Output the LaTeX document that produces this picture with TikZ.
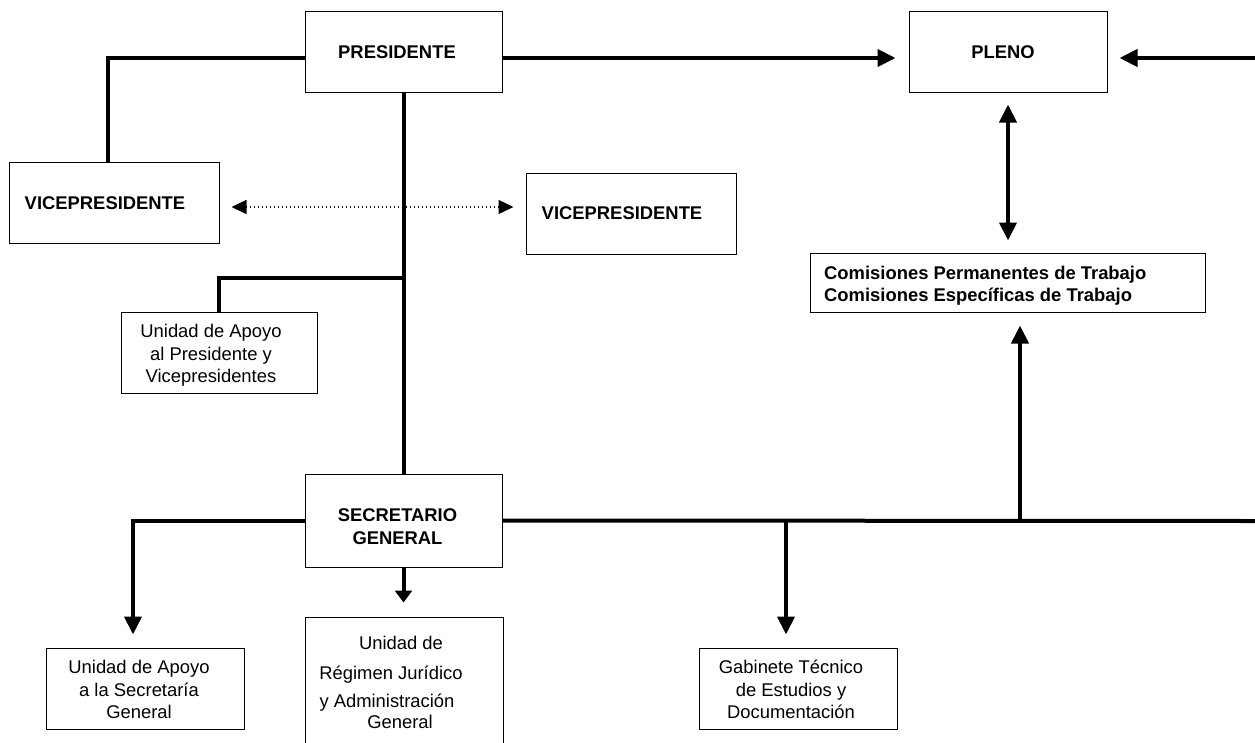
\documentclass[tikz,border=0pt]{standalone}
\usepackage{fontspec}
\setmainfont{Liberation Sans}
\usetikzlibrary{arrows.meta}
\begin{document}
\begin{tikzpicture}[x=1pt,y=-1pt,
  box/.style={draw, line width=1pt, rectangle, inner sep=0pt},
  conn/.style={line width=4pt},
  arr/.style={conn, -{Triangle[length=18pt,width=17pt]}},
  darr/.style={conn, {Triangle[length=18pt,width=17pt]}-{Triangle[length=18pt,width=17pt]}},
  sarr/.style={conn, -{Triangle[length=12pt,width=17pt]}},
  dotarr/.style={line width=1.3pt, dash pattern=on 1.3pt off 2.7pt, {Triangle[length=15pt,width=14pt]}-{Triangle[length=15pt,width=14pt]}},
  txt/.style={font=\fontsize{18.4}{22.5}\selectfont, inner sep=0pt, text height=13.3pt, text depth=0pt, align=center},
  btxt/.style={txt, font=\fontsize{18.4}{22.5}\selectfont\bfseries},
]
\useasboundingbox (0,0) rectangle (1255,742);
\fill[white] (0,0) rectangle (1255,742);

% boxes
\node[box, minimum width=197pt, minimum height=81pt] (pres) at (403.5,51.5) {};
\node[box, minimum width=198pt, minimum height=81pt] (pleno) at (1008,51.5) {};
\node[box, minimum width=210pt, minimum height=81pt] (vpl) at (114,202.5) {};
\node[box, minimum width=210pt, minimum height=81pt] (vpr) at (631,213.5) {};
\node[box, minimum width=395pt, minimum height=59pt] (com) at (1007.5,282.5) {};
\node[box, minimum width=196pt, minimum height=81pt] (uap) at (219,352.5) {};
\node[box, minimum width=197pt, minimum height=93pt] (sg) at (403.5,520.5) {};
\node[box, minimum width=198pt, minimum height=81pt] (uasg) at (145,688.5) {};
\node[box, minimum width=198pt, minimum height=153pt] (urj) at (404,693.5) {};
\node[box, minimum width=198pt, minimum height=81pt] (gab) at (798,688.5) {};

% texts (multi-line nodes are placed at the centre of their last line)
\node[btxt] (tpres) at (397,52) {PRESIDENTE};
\node[btxt] (tpleno) at (1003,52) {PLENO};
\node[btxt] (tvpl) at (105,203) {VICEPRESIDENTE};
\node[btxt] (tvpr) at (622,213) {VICEPRESIDENTE};
\node[btxt, anchor=west, align=left, font=\fontsize{18.4}{22}\selectfont\bfseries] (tcom) at (824,295) {Comisiones Permanentes de Trabajo\\Comisiones Específicas de Trabajo};
\node[btxt, font=\fontsize{18.4}{23}\selectfont\bfseries] (tsg) at (397.5,538) {SECRETARIO\\GENERAL};
\node[txt] (tuap) at (211,376) {Unidad de Apoyo\\al Presidente y\\Vicepresidentes};
\node[txt] (tuasg) at (139,712) {Unidad de Apoyo\\a la Secretaría\\General};
\node[txt] (turj1) at (401,643) {Unidad de};
\node[txt] (turj2) at (391,673) {Régimen Jurídico};
\node[txt] (turj3) at (387,701) {y Administración};
\node[txt] (turj4) at (400,722) {General};
\node[txt] (tgab) at (791,712) {Gabinete Técnico\\de Estudios y\\Documentación};

% connectors
\coordinate (rend1) at (1255,58);
\coordinate (rend2) at (1255,521);
\coordinate (j1) at (403.5,278);
\coordinate (j2) at (1020,521);
\coordinate (j3) at (786,521);

\draw[conn] ([yshift=-6.5pt]pres.west) -| ([xshift=-6pt]vpl.north);
\draw[arr, shorten >=13pt] ([yshift=-6.5pt]pres.east) -- ([yshift=-6.5pt]pleno.west);
\draw[arr, shorten >=12pt] (rend1) -- ([yshift=-6.5pt]pleno.east);
\draw[darr, shorten >=12pt, shorten <=12pt] (pleno.south) -- (pleno.south |- com.north);
\draw[dotarr, shorten >=12pt, shorten <=12pt] ([yshift=-4.5pt]vpl.east) -- ([yshift=-4.5pt]vpl.east -| vpr.west);
\draw[conn] (pres.south) -- (sg.north);
\draw[conn] (j1) -| (uap.north);
\draw[arr] (sg.west) -| ([xshift=-12pt, yshift=13pt]uasg.north);
\draw[sarr] (sg.south) -- ([yshift=14pt]urj.north -| sg.south);
\draw[conn] (sg.east) -- (rend2);
\draw[arr, shorten >=13pt] (j2) -- (j2 |- com.south);
\draw[arr, shorten >=13pt] (j3) -- (j3 |- gab.north);
\end{tikzpicture}
\end{document}
